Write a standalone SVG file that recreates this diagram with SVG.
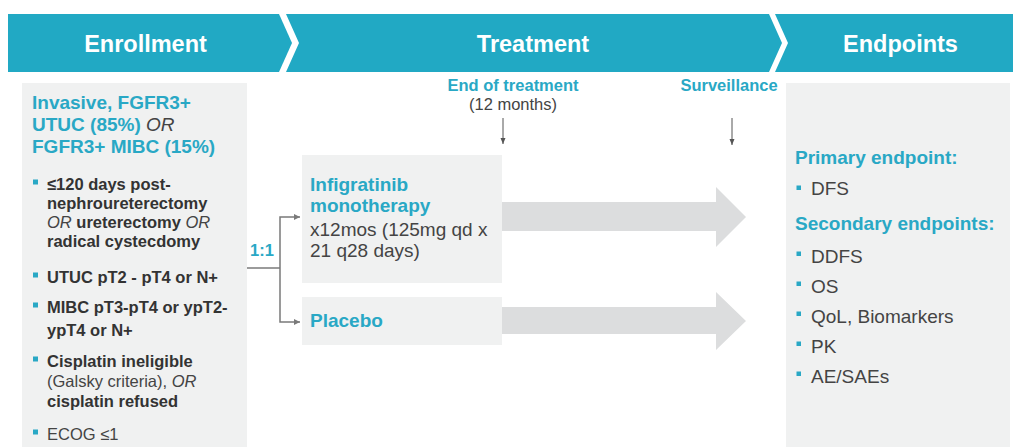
<svg xmlns="http://www.w3.org/2000/svg" width="1013" height="447" viewBox="0 0 1013 447">
  <defs>
    <style>
      .hdr { fill: #21a9c4; }
      .hdrtxt { font-family: "Liberation Sans", Arial, sans-serif; font-size: 23.5px; font-weight: bold; fill: #ffffff; text-anchor: middle; }
      .box { fill: #f0f1f1; }
      .big { fill: #dcddde; }
      .t19 { font-family: "Liberation Sans", Arial, sans-serif; font-size: 19px; }
      .t165 { font-family: "Liberation Sans", Arial, sans-serif; font-size: 16.5px; }
      .cy { fill: #29a8c5; font-weight: bold; }
      .dk { fill: #333333; font-weight: bold; }
      .rg { fill: #444444; font-weight: normal; }
      .it { font-style: italic; font-weight: normal; fill: #444444; }
      .bul { fill: #29a8c5; }
      .conn { stroke: #7a7a7a; stroke-width: 1.5; fill: none; }
      .down { stroke: #555555; stroke-width: 1; fill: none; }
    </style>
    <marker id="ah" markerWidth="8" markerHeight="8" refX="6" refY="4" orient="auto" markerUnits="userSpaceOnUse">
      <path d="M0,1 L6,4 L0,7 Z" fill="#7a7a7a"/>
    </marker>
    <marker id="ahd" markerWidth="8" markerHeight="8" refX="6" refY="4" orient="auto" markerUnits="userSpaceOnUse">
      <path d="M0,1.5 L6,4 L0,6.5 Z" fill="#555555"/>
    </marker>
  </defs>

  <rect width="1013" height="447" fill="#ffffff"/>

  <g id="header-enrollment">
    <polygon class="hdr" points="8,14 279,14 292,43 279,72 8,72"/>
    <text class="hdrtxt" x="145.5" y="52">Enrollment</text>
  </g>
  <g id="header-treatment">
    <polygon class="hdr" points="286,14 769,14 782,43 769,72 286,72 299,43"/>
    <text class="hdrtxt" x="533" y="52">Treatment</text>
  </g>
  <g id="header-endpoints">
    <polygon class="hdr" points="775,14 1013,14 1013,72 775,72 788,43"/>
    <text class="hdrtxt" x="900.5" y="52">Endpoints</text>
  </g>

  <g id="enrollment">
    <rect class="box" x="22" y="83" width="225" height="364"/>
    <text class="t19 cy" x="32" y="109">Invasive, FGFR3+</text>
    <text class="t19 cy" x="32" y="131">UTUC (85%) <tspan class="it">OR</tspan></text>
    <text class="t19 cy" x="32" y="153">FGFR3+ MIBC (15%)</text>

    <rect class="bul" x="33" y="179.5" width="5" height="5"/>
    <text class="t165 dk" x="47" y="190">≤120 days post-</text>
    <text class="t165 dk" x="47" y="209">nephroureterectomy</text>
    <text class="t165 dk" x="47" y="228"><tspan class="it">OR</tspan> ureterectomy <tspan class="it">OR</tspan></text>
    <text class="t165 dk" x="47" y="247">radical cystecdomy</text>

    <rect class="bul" x="33" y="272.5" width="5" height="5"/>
    <text class="t165 dk" x="47" y="283">UTUC pT2 - pT4 or N+</text>

    <rect class="bul" x="33" y="302.5" width="5" height="5"/>
    <text class="t165 dk" x="47" y="313">MIBC pT3-pT4 or ypT2-</text>
    <text class="t165 dk" x="47" y="336">ypT4 or N+</text>

    <rect class="bul" x="33" y="356.5" width="5" height="5"/>
    <text class="t165 dk" x="47" y="367">Cisplatin ineligible</text>
    <text class="t165 rg" x="47" y="387">(Galsky criteria), <tspan class="it">OR</tspan></text>
    <text class="t165 dk" x="47" y="407">cisplatin refused</text>

    <rect class="bul" x="33" y="429.5" width="5" height="5"/>
    <text class="t165 rg" x="47" y="440">ECOG ≤1</text>
  </g>

  <g id="timeline-labels">
    <text class="t165 cy" x="513" y="91" text-anchor="middle">End of treatment</text>
    <text class="t165 rg" x="513" y="110" text-anchor="middle">(12 months)</text>
    <text class="t165 cy" x="729" y="91" text-anchor="middle">Surveillance</text>
  </g>

  <g id="arm-arrows">
    <polygon class="big" points="500,202 716,202 716,187 746,217 716,247 716,231 500,231"/>
    <polygon class="big" points="500,307 716,307 716,292 746,321 716,350 716,334 500,334"/>
  </g>

  <g id="infigratinib">
    <rect class="box" x="302" y="155" width="200" height="128"/>
    <text class="t19 cy" x="310" y="191">Infigratinib</text>
    <text class="t19 cy" x="310" y="212">monotherapy</text>
    <text class="t19 rg" x="310" y="236">x12mos (125mg qd x</text>
    <text class="t19 rg" x="310" y="257">21 q28 days)</text>
  </g>

  <g id="placebo">
    <rect class="box" x="302" y="297" width="200" height="48"/>
    <text class="t19 cy" x="310" y="327">Placebo</text>
  </g>

  <g id="endpoints">
    <rect class="box" x="786" y="83" width="224" height="364"/>
    <text class="t19 cy" x="795" y="164">Primary endpoint:</text>
    <rect class="bul" x="796.5" y="185.5" width="4.5" height="4.5"/>
    <text class="t19 rg" x="811" y="195">DFS</text>
    <text class="t19 cy" x="795" y="230">Secondary endpoints:</text>
    <rect class="bul" x="796.5" y="251.5" width="4.5" height="4.5"/>
    <text class="t19 rg" x="811" y="263">DDFS</text>
    <rect class="bul" x="796.5" y="281.5" width="4.5" height="4.5"/>
    <text class="t19 rg" x="811" y="293">OS</text>
    <rect class="bul" x="796.5" y="311.5" width="4.5" height="4.5"/>
    <text class="t19 rg" x="811" y="323">QoL, Biomarkers</text>
    <rect class="bul" x="796.5" y="341.5" width="4.5" height="4.5"/>
    <text class="t19 rg" x="811" y="353">PK</text>
    <rect class="bul" x="796.5" y="371.5" width="4.5" height="4.5"/>
    <text class="t19 rg" x="811" y="383">AE/SAEs</text>
  </g>

  <g id="connectors">
    <path class="conn" d="M247,268 H280"/>
    <path class="conn" d="M280,268 V217 H300" marker-end="url(#ah)"/>
    <path class="conn" d="M280,268 V322 H300" marker-end="url(#ah)"/>
    <text class="t165 cy" x="250" y="256">1:1</text>
    <path class="down" d="M503,118 V144" marker-end="url(#ahd)"/>
    <path class="down" d="M732,118 V145" marker-end="url(#ahd)"/>
  </g>
</svg>
